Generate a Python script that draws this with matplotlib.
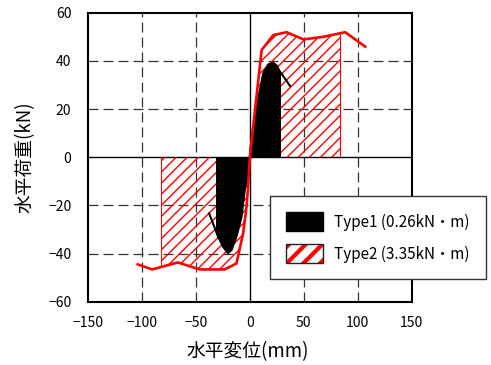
import numpy as np
import matplotlib
matplotlib.use("Agg")
import matplotlib.pyplot as plt
from matplotlib.patches import Polygon, Rectangle

plt.rcParams['font.family'] = ['Noto Sans CJK JP', 'DejaVu Sans']

# Type2 envelope (red)
env_x = [-103.9, -90.5, -66.7, -46.5, -23.3, -12.4, -6.2, -3.1, -1.6, 0.0, 3.1, 10.9, 21.7, 34.1, 49.6, 68.2, 88.4, 107.0]
env_y = [-44.5, -46.6, -43.7, -46.6, -46.6, -44.1, -31.6, -20.6, -12.3, 0.0, 12.7, 44.5, 50.7, 51.9, 48.9, 50.0, 51.9, 45.9]
type2_range = [-82.1, 83.1]

# Type1 curve (black)
t1_x = [-37.8, -34.1, -29.5, -24.8, -20.2, -17.0, -12.4, -7.7, -4.7, -1.6, 0.0, 1.6, 6.2, 12.4, 17.0, 21.7, 25.0, 27.9, 32.0, 37.2]
t1_y = [-23.3, -27.5, -33.0, -37.2, -39.9, -38.5, -33.0, -24.7, -13.6, -6.7, 0.0, 8.5, 21.0, 34.8, 38.5, 39.2, 38.0, 35.5, 33.0, 29.6]
type1_range = [-31.0, 28.8]

labels = ['Type1 (0.26kN・m)', 'Type2 (3.35kN・m)']
xticks = [-150, -100, -50, 0, 50, 100, 150]
yticks = [-60, -40, -20, 0, 20, 40, 60]

fig = plt.figure(figsize=(4.91, 3.65), dpi=100)
ax = fig.add_axes([88/491, 1-301.7/365, 323.7/491, 289/365])
ax.set_xlim(-150, 150)
ax.set_ylim(-60, 60)
ax.set_xticks(xticks)
ax.set_yticks(yticks)
ax.tick_params(length=0, labelsize=10, pad=12)
ax.tick_params(axis='x', pad=10)
for s in ax.spines.values():
    s.set_linewidth(1.5)

for v in xticks[1:-1]:
    if v != 0:
        ax.axvline(v, color='#333333', lw=0.9, ls=(0, (8, 4)), zorder=1)
for v in yticks[1:-1]:
    if v != 0:
        ax.axhline(v, color='#333333', lw=0.9, ls=(0, (8, 4)), zorder=1)
ax.axhline(0, color='black', lw=1.0, zorder=1)
ax.axvline(0, color='black', lw=1.0, zorder=1)

# clip polygon under envelope
ex = np.array(env_x); ey = np.array(env_y)
env_poly = Polygon(np.column_stack([np.r_[ex, ex[-1], ex[0]], np.r_[ey, 0, 0]]),
                   closed=True, transform=ax.transData, facecolor='none', edgecolor='none')
ax.add_patch(env_poly)
for x0, x1 in [(type2_range[0], 0), (0, type2_range[1])]:
    r = Rectangle((x0, -60), x1 - x0, 120, facecolor='none', edgecolor='red',
                  hatch='///', lw=0.8, zorder=2)
    ax.add_patch(r)
    r.set_clip_path(env_poly)

# Type1 black fill
tx = np.array(t1_x); ty = np.array(t1_y)
t1_poly = Polygon(np.column_stack([np.r_[tx, tx[-1], tx[0]], np.r_[ty, 0, 0]]),
                  closed=True, transform=ax.transData, facecolor='none', edgecolor='none')
ax.add_patch(t1_poly)
r1 = Rectangle((type1_range[0], -60), type1_range[1] - type1_range[0], 120,
               facecolor='black', edgecolor='none', zorder=3)
ax.add_patch(r1)
r1.set_clip_path(t1_poly)
ax.plot(t1_x, t1_y, color='black', lw=1.5, zorder=4)

ax.plot(env_x, env_y, color='red', lw=1.9, zorder=5)

fig.text(25/491, 1-157/365, '水平荷重(kN)', rotation=90, va='center', ha='center', fontsize=13.5)
fig.text(248/491, 1-352/365, '水平変位(mm)', va='center', ha='center', fontsize=13.5)

h1 = Rectangle((0, 0), 1, 1, facecolor='black', edgecolor='black')
h2b = Rectangle((0, 0), 1, 1, facecolor='none', edgecolor='#222222', lw=1.0)
with plt.rc_context({'hatch.linewidth': 3.0}):
    h2 = Rectangle((0, 0), 1, 1, facecolor='white', edgecolor='red', lw=0, hatch='//')
    leg = fig.legend([h1, (h2, h2b)], labels, loc='upper left',
                     bbox_to_anchor=(270/491, 1-196/365), fontsize=11,
                     handlelength=2.4, handleheight=1.55, handletextpad=0.75,
                     labelspacing=0.85, borderpad=1.05, borderaxespad=0,
                     fancybox=False, framealpha=1, edgecolor='#333333')
leg.get_frame().set_linewidth(1.0)
leg.set_zorder(10)

fig.savefig('out.png', dpi=100)
